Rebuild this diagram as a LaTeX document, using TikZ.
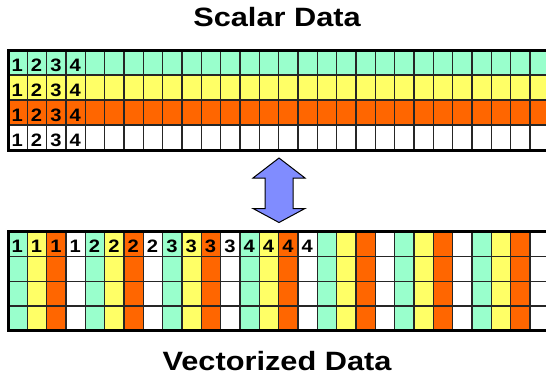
\documentclass[tikz,border=0pt]{standalone}
\usepackage{fontspec}
\setmainfont{Liberation Sans}
\definecolor{cg}{RGB}{153,255,204}
\definecolor{cy}{RGB}{255,255,102}
\definecolor{co}{RGB}{255,102,0}
\definecolor{ca}{RGB}{128,140,255}
\newcommand{\wtitle}[1]{\scalebox{1.16}[1]{#1}}
\newcommand{\wdigit}[1]{\scalebox{1.12}[1]{#1}}
\tikzset{
  title/.style={font=\bfseries\fontsize{26.5}{28}\selectfont, anchor=base, inner sep=0pt},
  digit/.style={font=\bfseries\fontsize{18}{20}\selectfont, anchor=base, inner sep=0pt},
  inner/.style={line width=1.4pt, black!85},
  outer/.style={line width=3pt, black},
  arrowshape/.style={fill=ca, draw=black, line width=1pt, line join=miter}
}
\begin{document}
\begin{tikzpicture}[x=1pt,y=-1pt]
\useasboundingbox (0,0) rectangle (546,381);
\def\w{19.33}
% titles
\node[title] (t1) at (277,26.5) {\wtitle{Scalar Data}};
\node[title] (t2) at (277,370.5) {\wtitle{Vectorized Data}};
% top grid
\foreach \c [count=\r from 0] in {cg,cy,co,white}
  \fill[\c] (8,{50+25*\r}) rectangle (560,{75+25*\r});
\foreach \i in {1,...,28}
  \draw[inner] ({8+\i*\w},50) -- ({8+\i*\w},150);
\foreach \j in {1,2,3}
  \draw[inner] (8,{50+25*\j}) -- (560,{50+25*\j});
\draw[outer] (8,50) rectangle (560,150);
\foreach \r in {0,...,3}
  \foreach \n in {1,...,4}
    \node[digit] at ({7.6+(\n-0.5)*\w},{71.2+25*\r}) {\wdigit{\n}};
% bottom grid
\foreach \b in {0,...,6}
  \foreach \c [count=\k from 0] in {cg,cy,co,white}
    \fill[\c] ({8+(4*\b+\k)*\w},231.7) rectangle ++(\w,99);
\foreach \i in {1,...,28}
  \draw[inner] ({8+\i*\w},231.7) -- ({8+\i*\w},330.7);
\foreach \j in {1,2,3}
  \draw[inner] (8,{231.7+24.75*\j}) -- (560,{231.7+24.75*\j});
\draw[outer] (8,231.7) rectangle (560,330.7);
\foreach \n in {1,...,4}
  \foreach \k in {0,...,3}
    \node[digit] at ({7.6+(4*(\n-1)+\k+0.5)*\w},252.8) {\wdigit{\n}};
% double arrow
\draw[arrowshape] (279,158) -- (305,178) -- (293,178) -- (293,208.5) -- (305,208.5)
  -- (279,222.5) -- (253,208.5) -- (265,208.5) -- (265,178) -- (253,178) -- cycle;
\end{tikzpicture}
\end{document}
